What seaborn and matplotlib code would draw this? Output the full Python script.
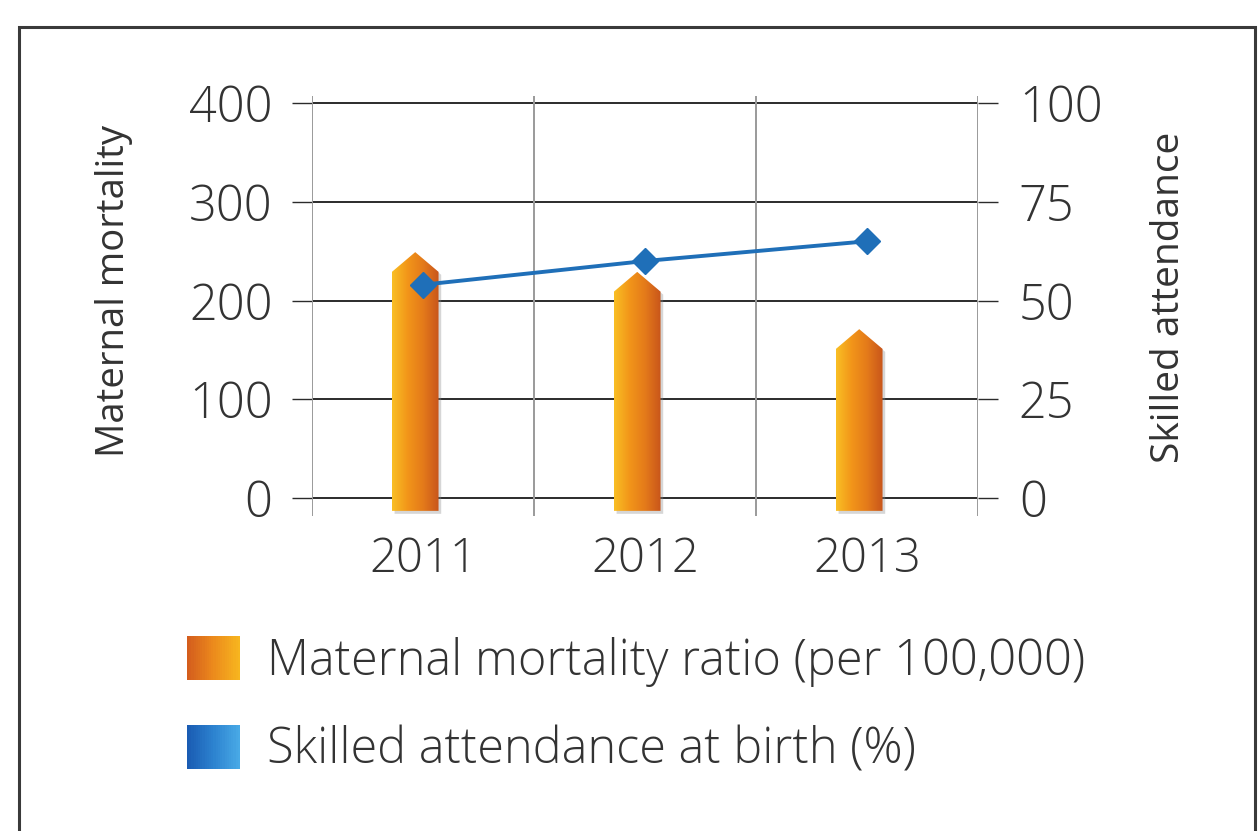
import numpy as np
import pandas as pd
import matplotlib
matplotlib.use('Agg')
import matplotlib.pyplot as plt
import seaborn as sns
from matplotlib.colors import LinearSegmentedColormap
from matplotlib.patches import Polygon, Rectangle
from matplotlib.legend_handler import HandlerBase

years = ['2011', '2012', '2013']
mortality = [249, 229, 171]          # maternal mortality ratio (per 100,000)
attendance = [54, 60, 65]            # skilled attendance at birth (%)
left_ticks = [0, 100, 200, 300, 400]
right_ticks = [0, 25, 50, 75, 100]
labels = ['Maternal mortality ratio (per 100,000)', 'Skilled attendance at birth (%)']

txt = '#333333'
bar_cmap = LinearSegmentedColormap.from_list('bar', ['#f9be24', '#f29519', '#e47a1a', '#c9561b'])
leg_orange = LinearSegmentedColormap.from_list('lo', ['#d45d1d', '#ec8a1c', '#f7b51f'])
leg_blue = LinearSegmentedColormap.from_list('lb', ['#1a5cb3', '#2c82cf', '#48a9e6'])
line_col = '#1f6fb8'

sns.set_theme(style='white')
plt.rcParams['font.family'] = ['Open Sans', 'DejaVu Sans']
plt.rcParams['font.weight'] = 'light'
plt.rcParams['text.color'] = txt


class GradientHandler(HandlerBase):
    def __init__(self, cmap, **kw):
        super().__init__(**kw)
        self.cmap = cmap

    def create_artists(self, legend, orig_handle, xdescent, ydescent, width, height, fontsize, trans):
        n = 24
        out = []
        for i in range(n):
            out.append(Rectangle((-xdescent + width * i / n, -ydescent), width / n * 1.1, height,
                                 facecolor=self.cmap(i / (n - 1)), edgecolor='none', transform=trans))
        return out


fig = plt.figure(figsize=(12.59, 8.31), dpi=100)
W, H = 1259, 831
ax = fig.add_axes([312 / W, 1 - 515.8 / H, 666 / W, 419.7 / H])

df = pd.DataFrame({'year': years, 'mortality': mortality})
sns.barplot(data=df, x='year', y='mortality', width=0.21, color='#f29519', ax=ax, zorder=3)

cap = 20
shift = -0.035
grad = np.linspace(0, 1, 64).reshape(1, -1)
for p in ax.patches:
    x0, w, h = p.get_x() + shift, p.get_width(), p.get_height()
    p.set_visible(False)
    pts = [(x0, -13), (x0, h - cap), (x0 + w / 2, h), (x0 + w, h - cap), (x0 + w, -13)]
    shadow = Polygon([(x + 0.012, y - 3) for x, y in pts], closed=True, facecolor='#8a8a8a',
                     alpha=0.35, edgecolor='none', zorder=2.5)
    ax.add_patch(shadow)
    shape = Polygon(pts, closed=True, facecolor='none', edgecolor='none', zorder=3)
    ax.add_patch(shape)
    im = ax.imshow(grad, extent=(x0, x0 + w, -13, h), aspect='auto', cmap=bar_cmap, zorder=3)
    im.set_clip_path(shape)

ax.set_xlim(-0.5, 2.5)
ax.set_ylim(-18, 407)
ax.set_yticks(left_ticks)
ax.set_yticklabels([str(t) for t in left_ticks])
for t in left_ticks:
    ax.axhline(t, color='#2b2b2b', lw=1.4, zorder=1)
for xv in [-0.5, 0.5, 1.5, 2.5]:
    ax.axvline(xv, color='#9a9a9a', lw=1.4, zorder=1)
sns.despine(ax=ax, left=True, bottom=True)
ax.tick_params(axis='y', length=14.4, width=1.0, color='#2b2b2b', pad=14, labelsize=35, labelcolor=txt, left=True)
ax.tick_params(axis='x', length=0, pad=14, labelsize=34, labelcolor=txt)
ax.set_xlabel('')
ax.set_ylabel('Maternal mortality', fontsize=27.5, color=txt)
ax.yaxis.set_label_coords(-0.269, 0.536)

ax2 = ax.twinx()
ax2.plot(range(len(years)), attendance, color=line_col, lw=2.8, marker='D', markersize=13, zorder=5)
ax2.set_ylim(-4.5, 101.75)
ax2.set_yticks(right_ticks)
ax2.set_yticklabels([str(t) for t in right_ticks])
ax2.grid(False)
for s in ax2.spines.values():
    s.set_visible(False)
ax2.tick_params(axis='y', length=14.4, width=1.0, color='#2b2b2b', pad=15, labelsize=35, labelcolor=txt, right=True)
ax2.set_ylabel('Skilled attendance', fontsize=28, color=txt, rotation=90)
ax2.yaxis.set_label_coords(1.258, 0.521)

# outer frame
fig.patches.append(Rectangle((19 / W, -0.1), (1255 - 19) / W, 1.1 - 27 / H, transform=fig.transFigure,
                             facecolor='none', edgecolor='#3a3a3a', lw=2.2))

h1 = Rectangle((0, 0), 1, 1)
h2 = Rectangle((0, 0), 1, 1)
fig.legend([h1, h2], labels, loc='upper left', bbox_to_anchor=(187 / W, 1 - 636 / H),
           frameon=False, fontsize=35, handlelength=1.09, handleheight=1.03, handletextpad=0.56,
           labelspacing=0.78, borderpad=0, borderaxespad=0,
           handler_map={h1: GradientHandler(leg_orange), h2: GradientHandler(leg_blue)})

fig.savefig('out.png', dpi=100)
